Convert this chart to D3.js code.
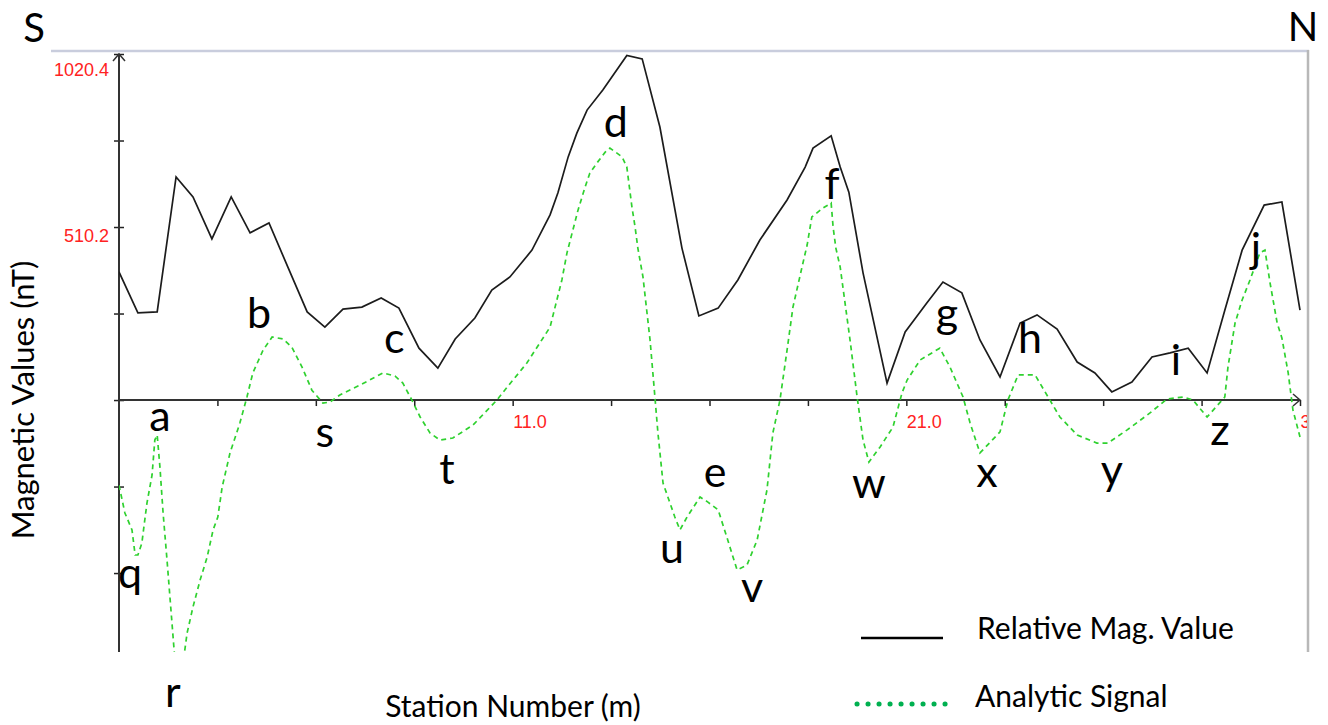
<!DOCTYPE html>
<html>
<head>
<meta charset="utf-8">
<script src="https://cdn.jsdelivr.net/npm/d3@7"></script>
<style>
  body { margin: 0; background: #fff; }
  svg { display: block; }
</style>
</head>
<body>
<svg id="chart" width="1328" height="725"></svg>
<script>
// ---- axis definitions ----
const stationDomain = [1, 31];
const valueDomain = [-743, 1020.4];
const yTickValues = [1020.4, 765.3, 510.2, 255.1, 0, -255.1, -510.2];
const yLabelValues = [1020.4, 510.2];
const xTickValues = [3.5, 6, 8.5, 11, 13.5, 16, 18.5, 21, 23.5, 26, 28.5, 31];
const xLabelValues = [11, 21, 31];

// ---- relative magnetic value (nT) ----
const magStations = [1.00,1.48,1.97,2.45,2.88,3.36,3.85,4.33,4.81,5.29,5.78,6.23,6.69,7.17,7.66,
  8.11,8.62,9.10,9.54,10.04,10.47,10.93,11.49,11.95,12.15,12.41,12.63,12.89,13.29,13.90,14.29,
  14.74,15.30,15.73,16.22,16.72,17.28,17.97,18.43,18.63,19.09,19.32,19.54,19.90,20.51,20.97,
  21.52,21.93,22.41,22.87,23.38,23.89,24.32,24.83,25.34,25.79,26.22,26.73,27.24,27.70,28.16,
  28.64,29.09,29.53,30.09,30.54,31.00];
const magValues = [378,257,260,658,599,475,599,493,522,392,260,215,268,274,301,
  271,153,94,180,242,324,363,442,546,611,717,787,855,914,1016,1006,
  805,448,248,271,354,472,590,687,743,779,687,613,375,50,201,
  286,348,316,177,68,227,251,209,112,80,24,53,127,139,153,
  80,265,442,575,584,265];

// ---- analytic signal ----
const asStations = [1.00,1.15,1.33,1.41,1.48,1.58,1.71,1.84,1.91,1.97,
  2.04,2.12,2.22,2.30,2.50,2.73,2.88,3.06,3.24,3.39,
  3.51,3.62,3.82,4.07,4.25,4.40,4.66,4.89,5.17,5.39,
  5.65,5.90,6.18,6.36,6.61,7.12,7.71,8.01,8.21,8.44,
  8.65,8.90,9.15,9.48,9.99,10.60,10.86,11.36,11.95,12.25,
  12.38,12.66,12.84,12.96,13.14,13.35,13.47,13.78,13.90,14.03,
  14.11,14.18,14.31,14.49,14.62,14.69,14.82,15.12,15.25,15.43,
  15.76,15.96,16.22,16.44,16.70,16.95,17.21,17.46,17.61,17.79,
  17.97,18.12,18.35,18.48,18.60,18.88,19.09,19.14,19.21,19.32,
  19.57,19.75,19.90,20.05,20.33,20.66,20.89,21.02,21.35,21.85,
  22.11,22.44,22.62,22.87,23.38,23.58,23.84,24.27,24.60,24.90,
  25.34,25.84,26.12,26.61,27.19,27.62,28.03,28.28,28.64,29.09,
  29.17,29.35,29.53,29.73,29.98,30.11,30.24,30.42,30.54,30.70,
  30.82,31.00];
const asValues = [-251,-333,-383,-457,-457,-422,-304,-221,-118,-103,
  -198,-333,-472,-590,-885,-687,-610,-531,-463,-383,
  -345,-257,-156,-68,9,80,147,186,180,156,
  97,29,-9,-6,15,44,80,71,50,0,
  -50,-97,-118,-112,-74,0,38,109,215,354,
  434,560,628,669,699,731,743,717,687,569,
  510,448,363,177,0,-97,-245,-345,-383,-345,
  -286,-301,-324,-404,-501,-487,-413,-265,-97,0,
  147,274,392,457,540,566,581,510,448,392,
  177,9,-118,-183,-139,-80,21,59,118,153,
  97,9,-68,-156,-94,0,74,74,9,-50,
  -103,-127,-127,-88,-38,3,9,0,-50,9,
  97,227,295,354,434,442,345,227,183,80,
  -29,-109];

// ---- anomaly markers (station, value at the letter's baseline) ----
const markLetters  = ["a","b","c","d","e","f","g","h","i","j","q","r","s","t","u","v","w","x","y","z"];
const markStations = [2.04,4.56,7.99,13.62,16.14,19.11,22.03,24.14,27.85,29.88,1.28,2.37,6.23,9.33,15.05,17.08,20.05,23.05,26.22,28.97];
const markValues   = [-91,212,139,776,-257,593,212,139,74,405,-554,-905,-139,-248,-481,-596,-289,-257,-251,-133];

const seriesNames = ["Relative Mag. Value", "Analytic Signal"];

// ---- drawing ----
const svg = d3.select("#chart");
const x = d3.scaleLinear().domain(stationDomain).range([119, 1300]);
const y = d3.scaleLinear().domain(valueDomain).range([652, 54]);
const [x0, x1] = x.range();
const [yBottom, yTop] = y.range();
const textFont = "Lato, 'Open Sans', sans-serif";
const tickFont = "'Liberation Sans', Arial, sans-serif";

const defs = svg.append("defs");
defs.append("clipPath").attr("id", "plot-clip")
  .append("rect").attr("x", x0).attr("y", yTop - 2).attr("width", x1 - x0 + 2).attr("height", yBottom - yTop + 2);
defs.append("clipPath").attr("id", "frame-clip")
  .append("rect").attr("x", 0).attr("y", 0).attr("width", 1307).attr("height", 725);

// frame lines of the plot window
svg.append("line").attr("x1", 51).attr("x2", 1309).attr("y1", 51).attr("y2", 51)
  .attr("stroke", "#c9cddd").attr("stroke-width", 2.5);
svg.append("line").attr("x1", 1308).attr("x2", 1308).attr("y1", 50).attr("y2", 652)
  .attr("stroke", "#b8b8b8").attr("stroke-width", 2.5);

// y axis
const yAxis = svg.append("g").attr("transform", `translate(${x0},0)`)
  .call(d3.axisLeft(y).tickValues(yTickValues)
    .tickFormat(d => yLabelValues.includes(d) ? d.toFixed(1) : ""));
yAxis.select(".domain").remove();
yAxis.selectAll(".tick line").attr("x1", -5).attr("x2", 5).attr("stroke", "#222").attr("stroke-width", 1.5);
yAxis.selectAll(".tick text")
  .attr("x", -10).attr("dy", 0)
  .attr("y", d => d === valueDomain[1] ? 21 : 14)
  .attr("fill", "#f22").style("font-family", tickFont).style("font-size", "18px");

// x axis
const xAxis = svg.append("g").attr("transform", `translate(0,${y(0)})`)
  .attr("clip-path", "url(#frame-clip)")
  .call(d3.axisBottom(x).tickValues(xTickValues)
    .tickFormat(d => xLabelValues.includes(d) ? d.toFixed(1) : ""));
xAxis.select(".domain").remove();
xAxis.selectAll(".tick line").attr("y1", -6).attr("y2", 6).attr("stroke", "#222").attr("stroke-width", 1.5);
xAxis.selectAll(".tick text")
  .attr("x", 0).attr("y", 28).attr("dy", 0)
  .style("text-anchor", "start")
  .attr("fill", "#f22").style("font-family", tickFont).style("font-size", "18px");

// axis lines with arrow heads
svg.append("line").attr("x1", x0).attr("x2", x0).attr("y1", yTop).attr("y2", yBottom)
  .attr("stroke", "#333").attr("stroke-width", 2);
svg.append("path").attr("d", `M${x0 - 6},${yTop + 7}L${x0},${yTop}L${x0 + 6},${yTop + 7}`)
  .attr("fill", "none").attr("stroke", "#333").attr("stroke-width", 1.5);
svg.append("line").attr("x1", x0).attr("x2", x1).attr("y1", y(0)).attr("y2", y(0))
  .attr("stroke", "#333").attr("stroke-width", 2);
svg.append("path").attr("d", `M${x1 - 7},${y(0) - 6}L${x1},${y(0)}L${x1 - 7},${y(0) + 6}`)
  .attr("fill", "none").attr("stroke", "#333").attr("stroke-width", 1.5);

// series
const magData = magStations.map((s, i) => ({ s, v: magValues[i] }));
const asData = asStations.map((s, i) => ({ s, v: asValues[i] }));
const line = d3.line().x(d => x(d.s)).y(d => y(d.v));

const plot = svg.append("g").attr("clip-path", "url(#plot-clip)");
plot.append("path").datum(asData).attr("d", line)
  .attr("fill", "none").attr("stroke", "#2fd12f").attr("stroke-width", 1.7)
  .attr("stroke-dasharray", "5,4");
plot.append("path").datum(magData).attr("d", line)
  .attr("fill", "none").attr("stroke", "#1c1c1c").attr("stroke-width", 1.7);

// anomaly letters
svg.append("g").selectAll("text")
  .data(markLetters.map((t, i) => ({ t, s: markStations[i], v: markValues[i] })))
  .join("text")
  .attr("x", d => x(d.s)).attr("y", d => y(d.v))
  .attr("text-anchor", "middle")
  .style("font-family", textFont).style("font-size", "43px").attr("fill", "#000")
  .text(d => d.t);

// profile direction
svg.append("text").attr("x", x0 - 85).attr("y", 42).attr("text-anchor", "middle")
  .style("font-family", textFont).style("font-size", "40px").text("S");
svg.append("text").attr("x", x1 + 3).attr("y", 41).attr("text-anchor", "middle")
  .style("font-family", textFont).style("font-size", "40px").text("N");

// axis titles
svg.append("text").attr("transform", `translate(34,${y(0)}) rotate(-90)`)
  .attr("text-anchor", "middle")
  .style("font-family", textFont).style("font-size", "31px").text("Magnetic Values (nT)");
svg.append("text").attr("x", 513).attr("y", 717).attr("text-anchor", "middle")
  .style("font-family", textFont).style("font-size", "30px").text("Station Number (m)");

// legend
const legend = svg.append("g");
legend.append("line").attr("x1", 861).attr("x2", 943).attr("y1", 638).attr("y2", 638)
  .attr("stroke", "#000").attr("stroke-width", 2.5);
legend.append("line").attr("x1", 857).attr("x2", 950).attr("y1", 704).attr("y2", 704)
  .attr("stroke", "#00b050").attr("stroke-width", 5).attr("stroke-linecap", "round")
  .attr("stroke-dasharray", "0.1,10.9");
legend.append("text").attr("x", 977).attr("y", 639)
  .style("font-family", textFont).style("font-size", "30px").text(seriesNames[0]);
legend.append("text").attr("x", 975).attr("y", 707)
  .style("font-family", textFont).style("font-size", "30px").text(seriesNames[1]);
</script>
</body>
</html>
